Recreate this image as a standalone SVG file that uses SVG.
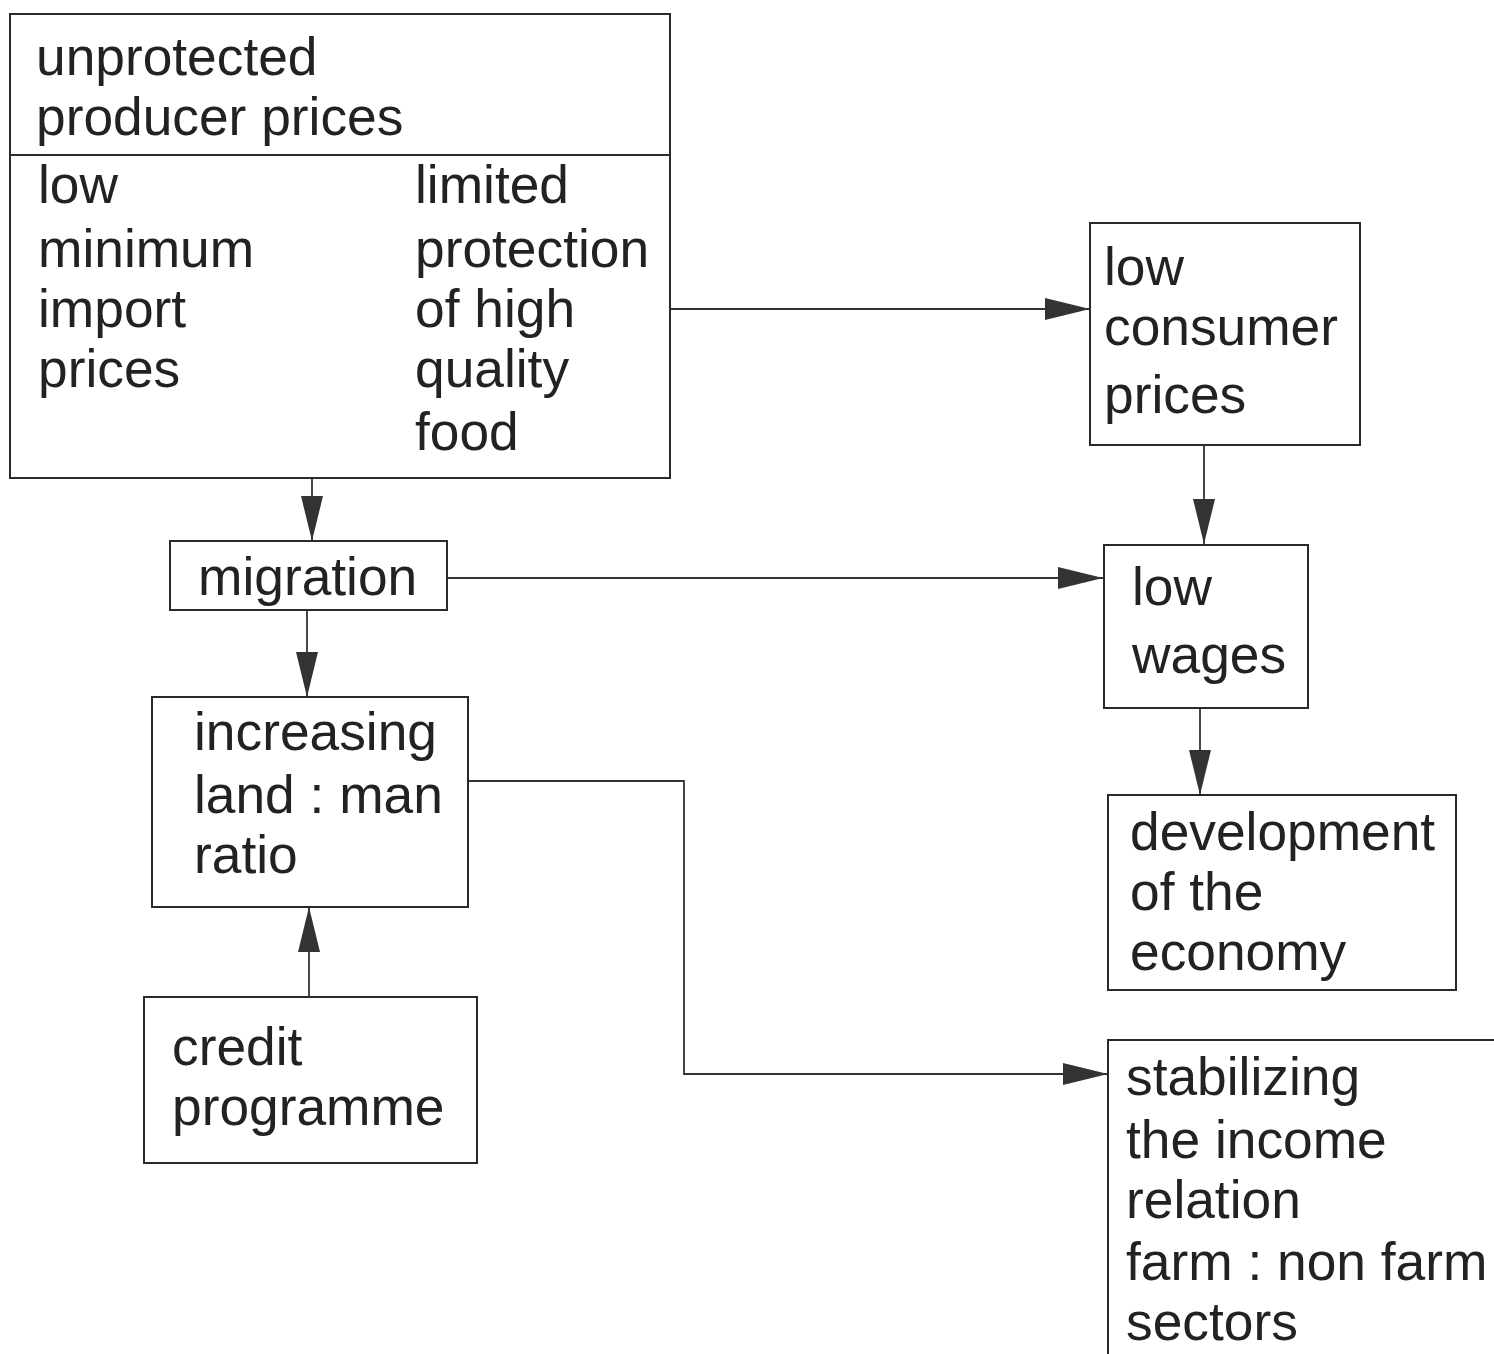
<svg xmlns="http://www.w3.org/2000/svg" width="1494" height="1354" viewBox="0 0 1494 1354">
<style>
.box{fill:#fff;stroke:#2a2a2a;stroke-width:2}
.t{font-family:"Liberation Sans",Arial,sans-serif;font-size:53.3px;fill:#222}
.c{fill:none;stroke:#333;stroke-width:1.8}
</style>
<defs>
<marker id="ah" markerUnits="userSpaceOnUse" markerWidth="46" markerHeight="26" refX="45" refY="13" orient="auto">
<path d="M0,2 L45,13 L0,24 Z" fill="#333"/>
</marker>
</defs>
<rect width="1494" height="1354" fill="#fff"/>
<g id="connectors">
<line class="c" x1="670" y1="309" x2="1090" y2="309" marker-end="url(#ah)"/>
<line class="c" x1="1204" y1="445" x2="1204" y2="544" marker-end="url(#ah)"/>
<line class="c" x1="1200" y1="708" x2="1200" y2="795" marker-end="url(#ah)"/>
<line class="c" x1="312" y1="478" x2="312" y2="541" marker-end="url(#ah)"/>
<line class="c" x1="447" y1="578" x2="1103" y2="578" marker-end="url(#ah)"/>
<line class="c" x1="307" y1="610" x2="307" y2="697" marker-end="url(#ah)"/>
<line class="c" x1="309" y1="997" x2="309" y2="907" marker-end="url(#ah)"/>
<polyline class="c" points="468,781 684,781 684,1074 1108,1074" marker-end="url(#ah)"/>
</g>
<g id="unprotected">
<rect class="box" x="10" y="14" width="660" height="464"/>
<line x1="10" y1="155" x2="670" y2="155" stroke="#2a2a2a" stroke-width="2"/>
<text class="t" x="36" y="75">unprotected</text>
<text class="t" x="36" y="135">producer prices</text>
<text class="t" x="38" y="203">low</text>
<text class="t" x="38" y="267">minimum</text>
<text class="t" x="38" y="327">import</text>
<text class="t" x="38" y="387">prices</text>
<text class="t" x="415" y="203">limited</text>
<text class="t" x="415" y="267">protection</text>
<text class="t" x="415" y="327">of high</text>
<text class="t" x="415" y="387">quality</text>
<text class="t" x="415" y="450">food</text>
</g>
<g id="consumer">
<rect class="box" x="1090" y="223" width="270" height="222"/>
<text class="t" x="1104" y="285">low</text>
<text class="t" x="1104" y="345">consumer</text>
<text class="t" x="1104" y="413">prices</text>
</g>
<g id="wages">
<rect class="box" x="1104" y="545" width="204" height="163"/>
<text class="t" x="1132" y="605">low</text>
<text class="t" x="1132" y="673">wages</text>
</g>
<g id="development">
<rect class="box" x="1108" y="795" width="348" height="195"/>
<text class="t" x="1130" y="850">development</text>
<text class="t" x="1130" y="910">of the</text>
<text class="t" x="1130" y="970">economy</text>
</g>
<g id="migration">
<rect class="box" x="170" y="541" width="277" height="69"/>
<text class="t" x="198" y="595">migration</text>
</g>
<g id="increasing">
<rect class="box" x="152" y="697" width="316" height="210"/>
<text class="t" x="194" y="750">increasing</text>
<text class="t" x="194" y="813">land : man</text>
<text class="t" x="194" y="873">ratio</text>
</g>
<g id="credit">
<rect class="box" x="144" y="997" width="333" height="166"/>
<text class="t" x="172" y="1065">credit</text>
<text class="t" x="172" y="1125">programme</text>
</g>
<g id="stabilizing">
<rect class="box" x="1108" y="1040" width="400" height="330"/>
<text class="t" x="1126" y="1095">stabilizing</text>
<text class="t" x="1126" y="1158">the income</text>
<text class="t" x="1126" y="1218">relation</text>
<text class="t" x="1126" y="1280">farm : non farm</text>
<text class="t" x="1126" y="1340">sectors</text>
</g>
</svg>
